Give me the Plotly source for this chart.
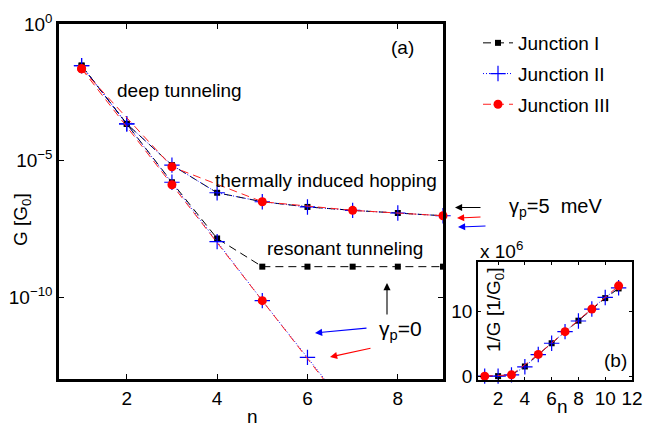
import plotly.graph_objects as go

# ---------------- data ----------------
n_main = [1, 2, 3, 4, 5, 6, 7, 8, 9]
n_odd = [1, 3, 5, 7, 9]

# gamma_p = 5 meV (upper branch)
G_J1_g5 = [3.0e-2, 2.2e-4, 6.8e-6, 6.6e-7, 3.1e-7, 2.0e-7, 1.5e-7, 1.2e-7, 9.5e-8]
G_J2_g5 = [3.0e-2, 2.2e-4, 6.8e-6, 6.6e-7, 3.1e-7, 2.0e-7, 1.5e-7, 1.2e-7, 9.5e-8]
G_J3_g5 = [2.3e-2, 5.9e-6, 3.1e-7, 1.5e-7, 9.5e-8]

# gamma_p = 0 (lower branch)
G_J1_g0 = [3.0e-2, 2.2e-4, 1.6e-6, 1.4e-8, 1.3e-9, 1.3e-9, 1.3e-9, 1.3e-9, 1.3e-9]
n_J2_g0 = [1, 2, 3, 4, 5, 6, 7]
G_J2_g0 = [3.0e-2, 2.2e-4, 1.6e-6, 1.07e-8, 7.4e-11, 6.2e-13, 5.0e-15]
n_J3_g0 = [1, 3, 5, 7]
G_J3_g0 = [2.3e-2, 1.3e-6, 7.4e-11, 4.2e-15]

# inset: 1/G in units of 1e6
n_inset = [1, 2, 3, 4, 5, 6, 7, 8, 9, 10, 11]
invG_J1 = [0.0, 0.0, 0.2, 1.5, 3.35, 5.1, 6.9, 8.6, 10.4, 12.1, 13.6]
invG_J2 = [0.0, 0.0, 0.2, 1.45, 3.35, 5.1, 6.9, 8.55, 10.4, 12.2, 13.7]
n_inset_odd = [1, 3, 5, 7, 9, 11]
invG_J3 = [0.0, 0.2, 3.37, 6.9, 10.4, 14.0]

main_yticks = [1e0, 1e-5, 1e-10]
main_yticktext = ["10<sup>0</sup>", "10<sup>\u22125</sup>", "10<sup>\u221210</sup>"]
main_xticks = [2, 4, 6, 8]
inset_xticks = [2, 4, 6, 8, 10, 12]
inset_yticks = [0, 10]

# ---------------- styles ----------------
FONT = "Liberation Sans, Arial, sans-serif"
W, H = 645, 425
def px(x):
    return x / W
def py(y):
    return 1 - y / H

sty = {
    "J1": dict(line=dict(color="black", dash="8px,5px", width=1),
               marker=dict(symbol="square", size=6, color="black")),
    "J2": dict(line=dict(color="#0000ff", dash="1px,2px", width=1),
               marker=dict(symbol="cross-thin-open", size=11, color="#0000ff",
                           line=dict(color="#0000ff", width=1.2))),
    "J3": dict(line=dict(color="#ff2020", dash="8px,5px", width=1),
               marker=dict(symbol="circle", size=9, color="#ff0000")),
}
names = {"J1": "Junction I", "J2": "Junction II", "J3": "Junction III"}

fig = go.Figure()

def add(x, y, key, show, clip, xa="x", ya="y"):
    fig.add_trace(go.Scatter(
        x=x, y=y, mode="lines+markers", name=names[key], legendgroup=key,
        showlegend=show, cliponaxis=clip, xaxis=xa, yaxis=ya, **sty[key]))

# main plot
add(n_main, G_J1_g5, "J1", True, False)
add(n_main, G_J1_g0, "J1", False, False)
add(n_main, G_J2_g5, "J2", True, False)
add(n_J2_g0, G_J2_g0, "J2", False, True)
add(n_odd, G_J3_g5, "J3", True, False)
add(n_J3_g0, G_J3_g0, "J3", False, True)

# inset
add(n_inset, invG_J1, "J1", False, False, "x2", "y2")
add(n_inset, invG_J2, "J2", False, False, "x2", "y2")
add(n_inset_odd, invG_J3, "J3", False, False, "x2", "y2")

axis_common = dict(showline=True, linecolor="black", mirror="allticks",
                   ticks="inside", tickcolor="black", showgrid=False,
                   zeroline=False, automargin=False,
                   tickfont=dict(family=FONT, size=19, color="black"))

fig.update_layout(
    template="none",
    width=W, height=H, margin=dict(l=0, r=0, t=0, b=0, pad=0, autoexpand=False),
    paper_bgcolor="white", plot_bgcolor="white",
    font=dict(family=FONT, size=19, color="black"),
    xaxis=dict(domain=[px(59), px(443)], range=[0.5, 9], tickvals=main_xticks,
               linewidth=2.5, ticklen=5, anchor="y", **axis_common),
    yaxis=dict(domain=[py(379), py(24)], type="log", range=[-13, 0],
               tickvals=main_yticks, ticktext=main_yticktext,
               linewidth=2.5, ticklen=5, anchor="x", **axis_common),
    xaxis2=dict(domain=[px(478), px(632)], range=[0.5, 12], tickvals=inset_xticks,
                linewidth=1.5, ticklen=3, anchor="y2", **axis_common),
    yaxis2=dict(domain=[py(380), py(262)], range=[-0.6, 17.7], tickvals=inset_yticks,
                linewidth=1.5, ticklen=3, anchor="x2", **axis_common),
    legend=dict(x=px(478), y=py(24), xanchor="left", yanchor="top",
                bgcolor="rgba(0,0,0,0)", font=dict(family=FONT, size=19),
                tracegroupgap=3, itemsizing="trace"),
)

ann = []
def text(x, y, t, xanchor="left", size=19, angle=0):
    ann.append(dict(x=px(x), y=py(y), xref="paper", yref="paper", text=t,
                    showarrow=False, xanchor=xanchor, yanchor="middle",
                    textangle=angle, font=dict(family=FONT, size=size, color="black")))

def arrow(hx, hy, tx, ty, color):
    ann.append(dict(x=px(hx), y=py(hy), xref="paper", yref="paper", text="",
                    showarrow=True, ax=tx - hx, ay=ty - hy, axref="pixel", ayref="pixel",
                    arrowhead=2, arrowsize=1.3, arrowwidth=1.1, arrowcolor=color))

text(115, 90, "deep tunneling")
text(213, 180, "thermally induced hopping")
text(265, 248, "resonant tunneling")
text(377, 330, "\u03b3<sub>p</sub>=0", size=21)
text(507, 207, "\u03b3<sub>p</sub>=5  meV", size=20)
text(402, 47, "(a)", xanchor="center")
text(252, 416, "n", xanchor="center")
text(22, 220, "G [G<sub>0</sub>]", xanchor="center", angle=-90)
# inset labels
text(478, 250, "x 10<sup>6</sup>")
text(615, 360, "(b)", xanchor="center")
text(562, 406, "n", xanchor="center")
text(495, 310, "1/G [1/G<sub>0</sub>]", xanchor="center", angle=-90)

arrow(387, 283, 387, 316, "black")
arrow(315, 333, 368, 328, "#0000ff")
arrow(330, 357, 372, 348, "#ff0000")
arrow(455, 207.5, 482, 207.5, "black")
arrow(457, 218, 482, 217, "#ff0000")
arrow(458, 227, 487, 226, "#0000ff")

fig.update_layout(annotations=ann)
fig.write_html("out.html")
